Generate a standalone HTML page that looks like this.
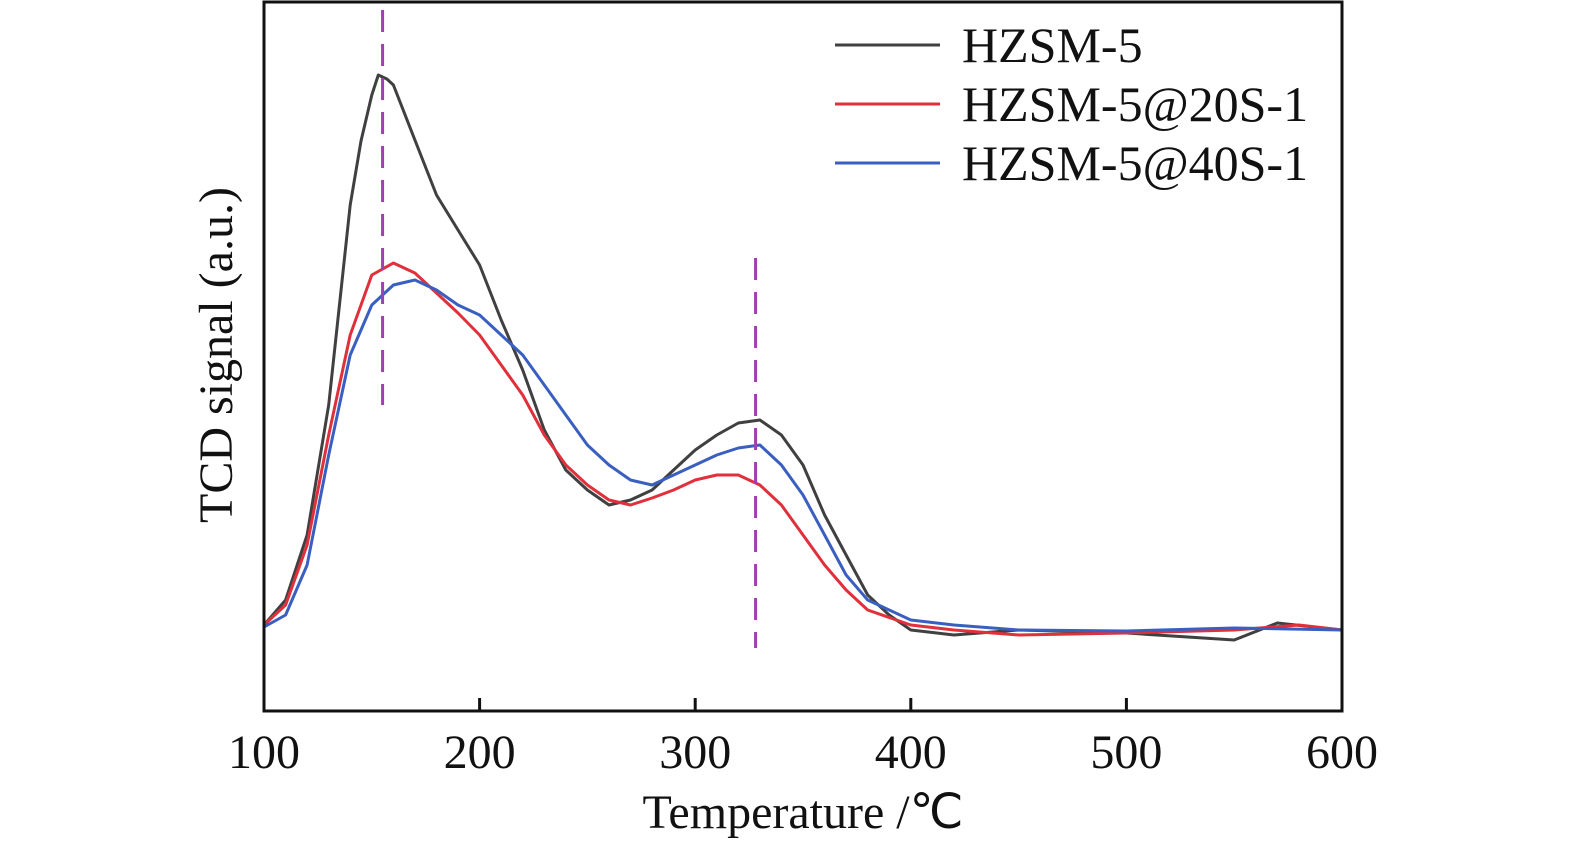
<!DOCTYPE html>
<html><head><meta charset="utf-8"><style>
body{margin:0;background:#fff}
svg{display:block}
text{font-family:"Liberation Serif",serif;fill:#111}
</style></head><body>
<svg id="chart" width="1575" height="848" xmlns="http://www.w3.org/2000/svg">
<g id="plot"></g>
</svg>
<script>
const temps=[100,110,120,130,140,145,150,153,157,160,170,180,190,200,210,220,230,240,250,260,270,280,290,300,310,320,330,340,350,360,370,380,390,400,420,450,500,550,570,600];
const hzsm=[86,111,176,306,506,570,616,636,632,626,571,516,481,446,391,341,281,241,221,206,211,221,241,261,276,288,291,276,246,196,156,116,96,81,76,81,78,71,88,81];
const t20=[100,110,120,130,140,150,160,170,180,190,200,210,220,230,240,250,260,270,280,290,300,310,320,330,340,350,360,370,380,400,420,450,500,550,580,600];
const hz20=[86,106,166,276,376,436,448,438,418,398,376,346,316,276,246,226,211,206,213,221,231,236,236,226,206,176,146,121,101,86,81,76,78,81,86,81];
const t40=[100,110,120,130,140,150,160,170,180,190,200,210,220,230,240,250,260,270,280,290,300,310,320,330,340,350,360,370,380,390,400,420,450,500,550,600];
const hz40=[84,96,146,256,356,406,426,431,421,406,396,376,356,326,296,266,246,231,226,236,246,256,263,266,246,216,176,136,111,101,91,86,81,80,83,81];
const xTicks=[100,200,300,400,500,600];
const peakMarks=[155,328];
const seriesNames=["HZSM-5","HZSM-5@20S-1","HZSM-5@40S-1"];
const colors=["#404040","#e0303c","#3a5fc0"];
const X0=264,X1=1342,Y0=2,Y1=711;
const xs=t=>X0+(t-100)/500*(X1-X0);
const ys=v=>711-v;
const ns="http://www.w3.org/2000/svg";
const svg=document.getElementById('chart');
function mk(tag,attrs,parent){const e=document.createElementNS(ns,tag);for(const k in attrs)e.setAttribute(k,attrs[k]);(parent||svg).appendChild(e);return e;}
[[temps,hzsm],[t20,hz20],[t40,hz40]].forEach((s,i)=>{
 const d=s[0].map((t,j)=>(j?'L':'M')+xs(t).toFixed(1)+','+ys(s[1][j]).toFixed(1)).join('');
 const p=mk('path',{d:d,fill:'none',stroke:colors[i],'stroke-width':3,'stroke-linejoin':'round'});
 
 
});
const dashY=[[10,405],[258,648]];
peakMarks.forEach((t,i)=>{
 const l=mk('line',{x1:xs(t),x2:xs(t),y1:dashY[i][0],y2:dashY[i][1],stroke:'#a040b0','stroke-width':3,'stroke-dasharray':'22,12'});
 
 
});
const fr=mk('rect',{x:X0,y:Y0,width:X1-X0,height:Y1-Y0,fill:'none',stroke:'#111','stroke-width':3});


xTicks.forEach(t=>{
 const tk=mk('line',{x1:xs(t),x2:xs(t),y1:Y1,y2:Y1-13,stroke:'#111','stroke-width':3});
 
 
 const tx=mk('text',{x:xs(t),y:768,'text-anchor':'middle','font-size':48});
 tx.textContent=t;
 
 
});
const xt=mk('text',{x:803,y:828,'text-anchor':'middle','font-size':48});
xt.textContent='Temperature /℃';


const yt=mk('text',{x:0,y:0,'text-anchor':'middle','font-size':48,transform:'translate(232,355) rotate(-90)'});
yt.textContent='TCD signal (a.u.)';


const legY=[45,104,163];
seriesNames.forEach((n,i)=>{
 const l=mk('line',{x1:835,x2:940,y1:legY[i],y2:legY[i],stroke:colors[i],'stroke-width':3});
 
 
 const t=mk('text',{x:962,y:legY[i]+17,'font-size':50});
 t.textContent=n;
 
 
});
</script>
</body></html>
